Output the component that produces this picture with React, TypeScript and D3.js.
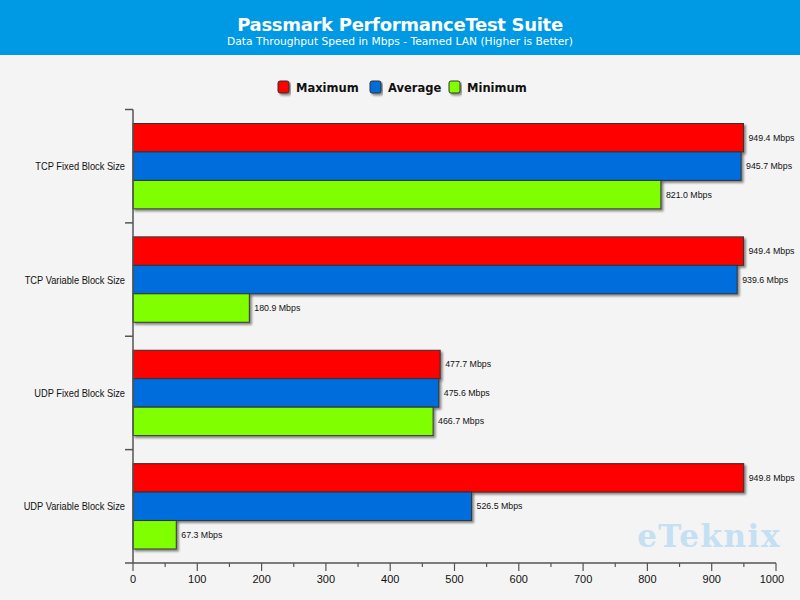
import React from "react";
import * as d3 from "d3";

const categories = ["TCP Fixed Block Size", "TCP Variable Block Size", "UDP Fixed Block Size", "UDP Variable Block Size"];
const seriesNames = ["Maximum", "Average", "Minimum"];
const seriesColors = ["#ff0000", "#006ddc", "#80ff00"];
const maximum = [949.4, 949.4, 477.7, 949.8];
const average = [945.7, 939.6, 475.6, 526.5];
const minimum = [821.0, 180.9, 466.7, 67.3];
const xTicks = [0, 100, 200, 300, 400, 500, 600, 700, 800, 900, 1000];

const W = 800, H = 600;
const left = 133, right = 776, top = 109.5, bottom = 563;

export default function App() {
  const x = d3.scaleLinear().domain([0, 1000]).range([left, right]);
  const y = d3.scaleBand().domain(categories).range([top, bottom]).padding(0);
  const inner = d3.scaleBand().domain(seriesNames).range([14, y.bandwidth() - 14]).padding(0);
  const values = [maximum, average, minimum];
  const minorTicks = d3.range(50, 1000, 100);
  const font = "'Liberation Sans', Arial, sans-serif";

  return (
    <svg width={W} height={H} style={{ position: "absolute", left: 0, top: 0 }}>
      <defs>
        <filter id="sh" x="-5%" y="-20%" width="120%" height="160%">
          <feDropShadow dx="2" dy="2" stdDeviation="0.8" floodColor="#000" floodOpacity="0.45" />
        </filter>
      </defs>
      <rect x={0} y={0} width={W} height={H} fill="#f4f4f4" />
      <rect x={0} y={0} width={W} height={55} fill="#0099e3" />
      <text x={400} y={31} textAnchor="middle" fill="#fff" fontFamily="'DejaVu Sans', Verdana, sans-serif" fontWeight="bold" fontSize={18} letterSpacing={-0.3}>Passmark PerformanceTest Suite</text>
      <text x={400} y={45} textAnchor="middle" fill="#fff" fontFamily="'DejaVu Sans', Verdana, sans-serif" fontSize={10.7}>Data Throughput Speed in Mbps - Teamed LAN (Higher is Better)</text>

      {/* legend */}
      {[
        { x: 278, tx: 296 },
        { x: 370, tx: 388 },
        { x: 449, tx: 467 },
      ].map((p, i) => (
        <g key={seriesNames[i]}>
          <rect x={p.x} y={81} width={11} height={12} rx={2} fill={seriesColors[i]} stroke="#333" strokeWidth={1} filter="url(#sh)" />
          <text x={p.tx} y={91.5} fontFamily="'DejaVu Sans', Verdana, sans-serif" fontWeight="bold" fontSize={11.5} fill="#111">{seriesNames[i]}</text>
        </g>
      ))}

      {/* watermark */}
      <text x={709} y={547} textAnchor="middle" fontFamily="'DejaVu Serif', serif" fontWeight="bold" fontSize={31} fill="#c4e0f2" letterSpacing={1.5}>eTeknix</text>

      {/* bars */}
      {categories.map((c, ci) => (
        <g key={c}>
          {seriesNames.map((s, si) => {
            const v = values[si][ci];
            const by = (y(c) as number) + (inner(s) as number);
            return (
              <g key={s}>
                <rect x={x(0)} y={by} width={x(v) - x(0)} height={inner.bandwidth()} fill={seriesColors[si]} stroke="#333" strokeWidth={1} filter="url(#sh)" />
                <text x={x(v) + 5} y={by + inner.bandwidth() / 2 + 3} fontFamily={font} fontSize={8.8} fill="#111">{v.toFixed(1)} Mbps</text>
              </g>
            );
          })}
          <text transform={`translate(125, ${(y(c) as number) + y.bandwidth() / 2 + 4}) scale(0.83, 1)`} textAnchor="end" fontFamily={font} fontSize={11.2} fill="#111">{c}</text>
        </g>
      ))}

      {/* y axis */}
      <line x1={left} x2={left} y1={top} y2={bottom} stroke="#555" strokeWidth={1.5} />
      {[...categories.map((c) => y(c) as number), bottom].map((t, i) => (
        <line key={i} x1={125} x2={left} y1={t} y2={t} stroke="#555" strokeWidth={1.5} />
      ))}

      {/* x axis */}
      <line x1={left} x2={right} y1={bottom} y2={bottom} stroke="#555" strokeWidth={1.5} />
      {xTicks.map((t) => (
        <g key={t}>
          <line x1={x(t)} x2={x(t)} y1={bottom} y2={bottom + 8} stroke="#555" strokeWidth={1.2} />
          <text x={t === 1000 ? x(t) - 4 : x(t)} y={bottom + 20} textAnchor="middle" fontFamily={font} fontSize={11} fill="#111">{t}</text>
        </g>
      ))}
      {minorTicks.map((t) => (
        <line key={t} x1={x(t)} x2={x(t)} y1={bottom} y2={bottom + 4} stroke="#555" strokeWidth={1.2} />
      ))}
    </svg>
  );
}
